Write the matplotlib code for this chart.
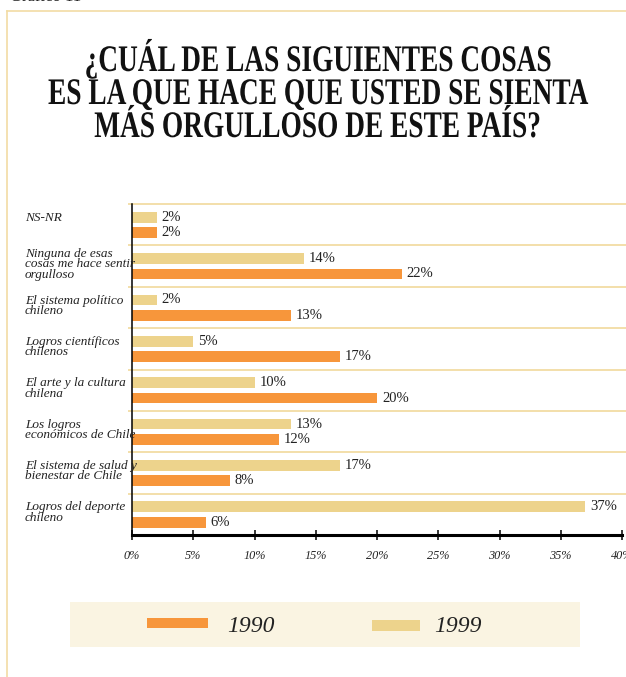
import numpy as np
import matplotlib.pyplot as plt
from matplotlib.patches import Rectangle
from matplotlib.lines import Line2D
from matplotlib.transforms import Affine2D, blended_transform_factory
from matplotlib.patheffects import AbstractPathEffect

# datos: porcentaje por respuesta y por año
categorias = [
    "NS-NR",
    "Ninguna de esas\ncosas me hace sentir\norgulloso",
    "El sistema político\nchileno",
    "Logros científicos\nchilenos",
    "El arte y la cultura\nchilena",
    "Los logros\neconómicos de Chile",
    "El sistema de salud y\nbienestar de Chile",
    "Logros del deporte\nchileno",
]
v1999 = [2, 14, 2, 5, 10, 13, 17, 37]
v1990 = [2, 22, 13, 17, 20, 12, 8, 6]
xticks = [0, 5, 10, 15, 20, 25, 30, 35, 40]
anios = ["1990", "1999"]

titulo = [
    "¿CUÁL DE LAS SIGUIENTES COSAS",
    "ES LA QUE HACE QUE USTED SE SIENTA",
    "MÁS ORGULLOSO DE ESTE PAÍS?",
]

NARANJA = "#F7963B"
CLARO = "#EDD38C"
LINEA = "#F2DCA4"
FONDO_LEY = "#FAF4E2"


class Angostar(AbstractPathEffect):
    """Comprime el texto en horizontal alrededor de su centro."""

    def __init__(self, sx):
        super().__init__()
        self.sx = sx

    def draw_path(self, renderer, gc, tpath, affine, rgbFace=None):
        ext = tpath.get_extents()
        cx = (ext.x0 + ext.x1) / 2
        t = Affine2D().translate(-cx, 0).scale(self.sx, 1).translate(cx, 0) + affine
        renderer.draw_path(gc, tpath, t, rgbFace)


plt.rcParams['font.family'] = ['Liberation Serif', 'DejaVu Serif']

W, H = 626, 677
fig = plt.figure(figsize=(W / 100, H / 100), dpi=100)


def fy(y):
    return 1 - y / H


# marco de la lámina
fig.add_artist(Line2D([7 / W, 1.0], [fy(11), fy(11)], color=LINEA, lw=1.2))
fig.add_artist(Line2D([7 / W, 7 / W], [fy(11), 0.0], color=LINEA, lw=1.2))
fig.text(10 / W, fy(1), "Gráfico 11", fontsize=12, va='baseline', ha='left', color='#222222')

# título
for linea, yb in zip(titulo, [71, 104, 137]):
    fig.text(318 / W, fy(yb), linea, fontsize=27, fontweight='bold', ha='center',
             va='baseline', color='#111111', path_effects=[Angostar(0.73)])

ax = fig.add_axes([132 / W, fy(535), (622 - 132) / W, (535 - 204) / H])
y = np.arange(len(categorias))
ax.barh(y - 0.18, v1999, height=0.26, color=CLARO, zorder=2)
ax.barh(y + 0.19, v1990, height=0.26, color=NARANJA, zorder=2)
ax.set_ylim(len(categorias) - 0.5, -0.5)
ax.set_xlim(0, 40)

# separadores entre grupos
ax.hlines(y - 0.5, -0.35, 42, colors=LINEA, lw=1.3, clip_on=False, zorder=1)

for s in ['top', 'right']:
    ax.spines[s].set_visible(False)
ax.spines['left'].set_linewidth(1.1)
ax.spines['bottom'].set_linewidth(2.2)
ax.spines['bottom'].set_zorder(3)
ax.set_yticks([])
ax.set_xticks(xticks)
ax.set_xticklabels([f"{t}%" for t in xticks], fontstyle='italic', fontsize=8.8, color='#222222')
ax.tick_params(axis='x', direction='inout', length=7, width=1.1, pad=7.5)

# valores de cada barra
for i in range(len(categorias)):
    ax.text(v1999[i] + 0.4, i - 0.18, f"{v1999[i]}%", va='center', ha='left',
            fontsize=10.5, color='#222222')
    ax.text(v1990[i] + 0.4, i + 0.19, f"{v1990[i]}%", va='center', ha='left',
            fontsize=10.5, color='#222222')

# etiquetas de categorías
trans = blended_transform_factory(fig.transFigure, ax.transData)
for i, cat in enumerate(categorias):
    n = cat.count("\n") + 1
    off = 0.19 if n <= 2 else 0.07
    ax.text(25 / W, i - 0.5 + off, cat, transform=trans, va='top', ha='left',
            fontstyle='italic', fontsize=9.5, linespacing=0.8, color='#222222')

# leyenda
fig.add_artist(Rectangle((70 / W, fy(647)), 510 / W, 45 / H, transform=fig.transFigure,
                         facecolor=FONDO_LEY, edgecolor='none'))
fig.add_artist(Rectangle((147 / W, fy(628)), 61 / W, 10 / H, transform=fig.transFigure,
                         facecolor=NARANJA, edgecolor='none'))
fig.add_artist(Rectangle((372 / W, fy(631)), 48 / W, 11 / H, transform=fig.transFigure,
                         facecolor=CLARO, edgecolor='none'))
fig.text(227 / W, fy(627), anios[0], fontsize=17, fontstyle='italic', va='center', ha='left', color='#222222')
fig.text(434 / W, fy(627), anios[1], fontsize=17, fontstyle='italic', va='center', ha='left', color='#222222')

fig.savefig("out.png", dpi=100)
